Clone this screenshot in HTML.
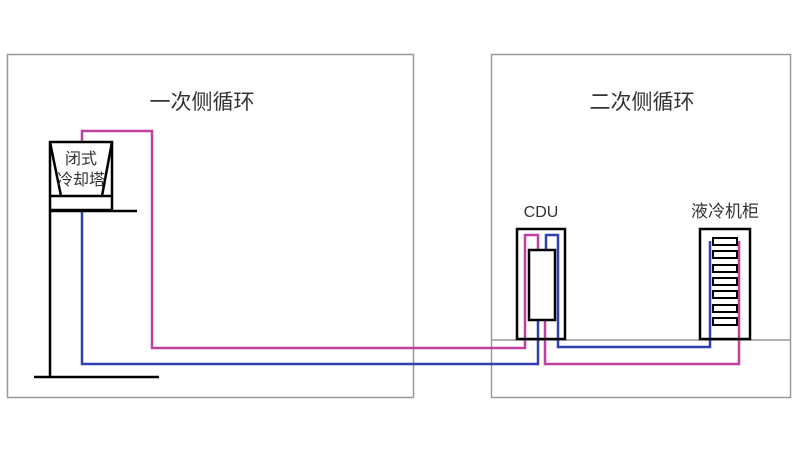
<!DOCTYPE html>
<html><head><meta charset="utf-8"><style>body{margin:0;background:#fff}svg{display:block}text{font-family:"Liberation Sans","Noto Sans CJK SC",sans-serif;fill:#333}</style></head><body>
<svg width="800" height="450" xmlns="http://www.w3.org/2000/svg">
<rect x="7.5" y="54.5" width="406" height="343" fill="none" stroke="#999" stroke-width="1.5"/>
<rect x="491.5" y="54.5" width="299" height="343" fill="none" stroke="#999" stroke-width="1.5"/>
<line x1="491" y1="340" x2="790" y2="340" stroke="#999" stroke-width="1.5"/>
<text x="202" y="109" font-size="21" text-anchor="middle">一次侧循环</text>
<text x="642" y="109" font-size="21" text-anchor="middle">二次侧循环</text>
<text x="541" y="217" font-size="16" text-anchor="middle">CDU</text>
<text x="725" y="217" font-size="17" text-anchor="middle">液冷机柜</text>
<g fill="none" stroke-width="2.5">
<polyline stroke="#c040a0" points="82,142 82,131 152,131 152,348 525,348 525,235 538,235 538,250"/>
<polyline stroke="#3040b0" points="82,211 82,364 538,364 538,320"/>
<polyline stroke="#3040b0" points="546,250 546,235 558,235 558,347 710,347 710,241"/>
<polyline stroke="#c040a0" points="545,320 545,364 739,364 739,241"/>
</g>
<g fill="none" stroke="#000" stroke-width="2.5">
<rect x="50" y="142" width="62" height="68" fill="#fff"/>
<line x1="50" y1="142" x2="61" y2="196"/><line x1="112" y1="142" x2="102" y2="196"/>
<line x1="50" y1="196" x2="112" y2="196"/>
<line x1="50" y1="211" x2="137" y2="211"/>
<line x1="50" y1="211" x2="50" y2="377"/>
<line x1="34" y1="377" x2="159" y2="377"/>
<rect x="517" y="229" width="48" height="110"/>
<rect x="529" y="250" width="26" height="70" fill="#fff"/>
<rect x="700" y="229" width="50" height="110"/>
<g fill="#fff" stroke-width="2">
<rect x="713" y="238" width="24" height="7"/><rect x="713" y="251" width="24" height="7"/><rect x="713" y="265" width="24" height="7"/><rect x="713" y="278" width="24" height="7"/><rect x="713" y="291" width="24" height="7"/><rect x="713" y="305" width="24" height="7"/><rect x="713" y="318" width="24" height="7"/>
</g>
</g>
<text x="81" y="164" font-size="16" text-anchor="middle">闭式</text>
<text x="81" y="185" font-size="16" text-anchor="middle">冷却塔</text>
</svg>
</body></html>
